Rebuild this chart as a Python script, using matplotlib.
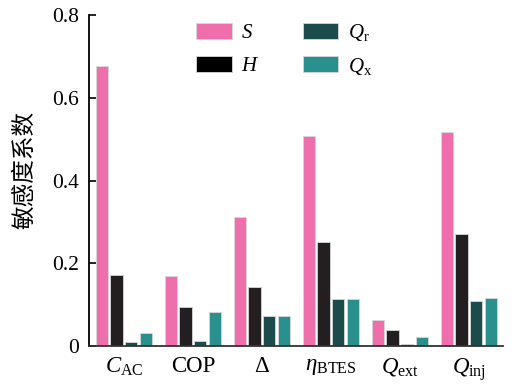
import numpy as np
import matplotlib
matplotlib.use("Agg")
import matplotlib.pyplot as plt

plt.rcParams['font.family'] = ['Liberation Serif', 'Noto Sans CJK SC']
plt.rcParams['mathtext.fontset'] = 'custom'
plt.rcParams['mathtext.rm'] = 'Liberation Serif'
plt.rcParams['mathtext.it'] = 'Liberation Serif:italic'
plt.rcParams['mathtext.bf'] = 'Liberation Serif:bold'

# --- data ---
categories = [r'$C_{\mathrm{AC}}$', 'COP', r'$\mathrm{\Delta}$',
              r'$\eta_{\mathrm{BTES}}$', r'$Q_{\mathrm{ext}}$', r'$Q_{\mathrm{inj}}$']
series_names = [r'$S$', r'$H$', r'$Q_{\mathrm{r}}$', r'$Q_{\mathrm{x}}$']
S_vals = [0.676, 0.169, 0.311, 0.508, 0.063, 0.517]
H_vals = [0.171, 0.094, 0.143, 0.251, 0.040, 0.271]
Qr_vals = [0.009, 0.012, 0.072, 0.114, 0.004, 0.108]
Qx_vals = [0.032, 0.082, 0.072, 0.113, 0.022, 0.117]
yticks = [0, 0.2, 0.4, 0.6, 0.8]
ytick_labels = ['0', '0.2', '0.4', '0.6', '0.8']

colors = ['#EE6FAB', '#231F20', '#1C4B4C', '#2A908E']
legend_colors = ['#EE6FAB', '#000000', '#1C4B4C', '#2A908E']

fig = plt.figure(figsize=(5.13, 3.85), dpi=100)
ax = fig.add_axes([0.173, 0.101, 0.807, 0.860])

x = np.arange(len(categories))
pitch = 0.213
width = 0.18
all_vals = [S_vals, H_vals, Qr_vals, Qx_vals]
for i, vals in enumerate(all_vals):
    offs = (i - 1.5) * pitch
    ax.bar(x + offs, vals, width, color=colors[i], edgecolor='#d8d8d8',
           linewidth=0.6, zorder=2)

# legend proxies
handles = [plt.Rectangle((0, 0), 1, 1, facecolor=c, edgecolor='#d8d8d8', linewidth=0.6)
           for c in legend_colors]
ax.legend(handles, series_names, ncol=2, frameon=False, fontsize=15,
          loc='upper left', bbox_to_anchor=(0.214, 1.035), handlelength=1.7,
          handleheight=0.8, columnspacing=2.1, labelspacing=0.6, handletextpad=0.45)

ax.set_xlim(-0.51, 5.49)
ax.set_ylim(0, 0.8)
ax.set_xticks(x)
ax.set_xticklabels(categories, fontsize=16.5)
ax.set_yticks(yticks)
ax.set_yticklabels(ytick_labels, fontsize=15.5)
ax.tick_params(axis='y', direction='in', length=5, width=1.2, pad=7)
ax.tick_params(axis='x', length=0, pad=7)
ax.spines['top'].set_visible(False)
ax.spines['right'].set_visible(False)
ax.spines['left'].set_linewidth(1.3)
ax.spines['bottom'].set_linewidth(1.3)
ax.spines['bottom'].set_color('#333333')

ax.set_ylabel('敏感度系数', family=['Noto Sans CJK SC'], fontsize=17)
ax.yaxis.set_label_coords(-0.128, 0.532)

fig.savefig('out.png', dpi=100)
